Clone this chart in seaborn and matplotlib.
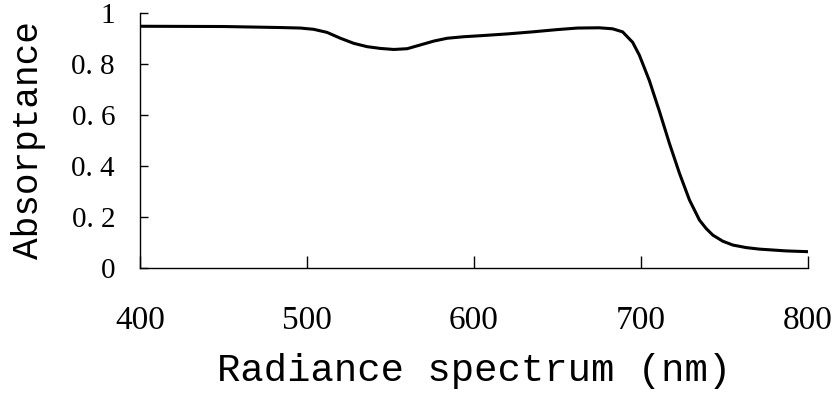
import matplotlib
matplotlib.use("Agg")
import matplotlib.pyplot as plt
import seaborn as sns
import pandas as pd

# Data
wavelength = [400, 450, 484, 496, 504, 512, 520, 528, 536, 544, 552, 560, 568, 576,
              584, 594, 604, 620, 635, 650, 662, 675, 683, 689, 695, 699, 705, 711,
              717, 723, 729, 735, 739, 743, 749, 755, 763, 771, 787, 800]
absorptance = [0.948, 0.947, 0.943, 0.941, 0.936, 0.924, 0.901, 0.881, 0.868, 0.861,
               0.857, 0.860, 0.875, 0.890, 0.901, 0.907, 0.911, 0.918, 0.926, 0.935,
               0.941, 0.942, 0.938, 0.926, 0.885, 0.835, 0.735, 0.615, 0.489, 0.372,
               0.267, 0.188, 0.155, 0.129, 0.105, 0.090, 0.080, 0.074, 0.067, 0.064]
x_ticks = [400, 500, 600, 700, 800]
x_tick_labels = ["400", "500", "600", "700", "800"]
y_ticks = [0, 0.2, 0.4, 0.6, 0.8, 1.0]
y_tick_labels = ["0", "0. 2", "0. 4", "0. 6", "0. 8", "1"]

df = pd.DataFrame({"wavelength": wavelength, "absorptance": absorptance})

sns.set_style("ticks")
fig = plt.figure(figsize=(8.38, 3.98), dpi=100)
ax = fig.add_axes([140 / 838, 1 - 268 / 398, 668 / 838, 255 / 398])

sns.lineplot(data=df, x="wavelength", y="absorptance", ax=ax, color="black",
             linewidth=2.2)

ax.set_xlim(400, 800)
ax.set_ylim(0, 1)
sns.despine(ax=ax)
for s in ("left", "bottom"):
    ax.spines[s].set_linewidth(1.0)
    ax.spines[s].set_color("black")

ax.set_xticks(x_ticks)
ax.set_xticklabels(x_tick_labels, fontfamily="Liberation Serif", fontsize=24)
ax.set_yticks(y_ticks)
ax.set_yticklabels(y_tick_labels, fontfamily="Liberation Serif", fontsize=21)
ax.tick_params(axis="x", direction="in", length=9, width=1.0, pad=27, colors="black")
ax.tick_params(axis="y", direction="in", length=6, width=1.0, pad=18, colors="black")

ax.set_xlabel("Radiance spectrum (nm)", fontfamily="Liberation Mono", fontsize=28,
              labelpad=12, color="black")
ax.set_ylabel("Absorptance", fontfamily="Liberation Mono", fontsize=26,
              labelpad=18, color="black")

fig.savefig("out.png", dpi=100, facecolor="white")
